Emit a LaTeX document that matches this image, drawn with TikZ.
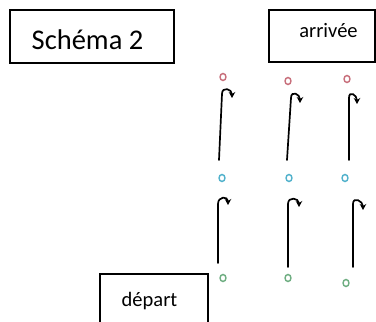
\documentclass[tikz,border=0pt]{standalone}
\usepackage{fontspec}
\setmainfont{Carlito}
\usetikzlibrary{arrows.meta,shapes.geometric}
\definecolor{dotred}{HTML}{C8707C}
\definecolor{dotblue}{HTML}{52B2CC}
\definecolor{dotgreen}{HTML}{6FAE82}
\tikzset{
  frame/.style={draw, line width=1.2pt, inner sep=0pt},
  dot/.style={draw=#1, line width=1.4pt, ellipse, minimum width=6pt, minimum height=7pt, inner sep=0pt},
  hook/.style={line width=1.7pt, line cap=round, -{Stealth[length=6pt,width=6.5pt]}},
}
\begin{document}
\begin{tikzpicture}[x=1pt,y=-1pt]
\useasboundingbox (0,0) rectangle (376,322);
\fill[white] (0,0) rectangle (376,322);

% labelled boxes
\node[frame, minimum width=164pt, minimum height=53pt] (titlebox) at (92,36.5) {};
\node[font=\fontsize{28.5}{32}\selectfont, anchor=base, inner sep=0pt] (title) at (87.5,49) {Schéma 2};
\node[frame, minimum width=106pt, minimum height=52pt] (arrbox) at (322,36) {};
\node[font=\fontsize{20.5}{24}\selectfont, anchor=base, inner sep=0pt] (arr) at (328.5,37) {arrivée};
\node[frame, minimum width=108pt, minimum height=52pt] (depbox) at (154,300) {};
\node[font=\fontsize{20.5}{24}\selectfont, anchor=base, inner sep=0pt] (dep) at (149.5,306) {départ};

% dots: arrival (top), intermediate (middle), start (bottom)
\node[dot=dotred] (r1) at (223,77) {};
\node[dot=dotred] (r2) at (288,81) {};
\node[dot=dotred] (r3) at (347,79) {};
\node[dot=dotblue] (b1) at (222,178) {};
\node[dot=dotblue] (b2) at (289,178) {};
\node[dot=dotblue] (b3) at (345,178) {};
\node[dot=dotgreen] (g1) at (223,278) {};
\node[dot=dotgreen] (g2) at (288,278) {};
\node[dot=dotgreen] (g3) at (346,283) {};

% hooked arrows, upper row
\coordinate (s1) at (219,160); \coordinate (t1) at (222,94); \coordinate (e1) at (232,98);
\coordinate (s2) at (287,160); \coordinate (t2) at (291,98); \coordinate (e2) at (300,103);
\coordinate (s3) at (349,160); \coordinate (t3) at (349,98); \coordinate (e3) at (357,104);
% hooked arrows, lower row
\coordinate (s4) at (218,263); \coordinate (t4) at (218,204); \coordinate (e4) at (228,205);
\coordinate (s5) at (288,267); \coordinate (t5) at (288,204); \coordinate (e5) at (299,207);
\coordinate (s6) at (353,267); \coordinate (t6) at (353,204); \coordinate (e6) at (363,210);

\foreach \i in {1,...,6}{
  \draw[hook] (s\i) -- (t\i) .. controls +(0,-8) and +(0,-9) .. (e\i);
}
\end{tikzpicture}
\end{document}
